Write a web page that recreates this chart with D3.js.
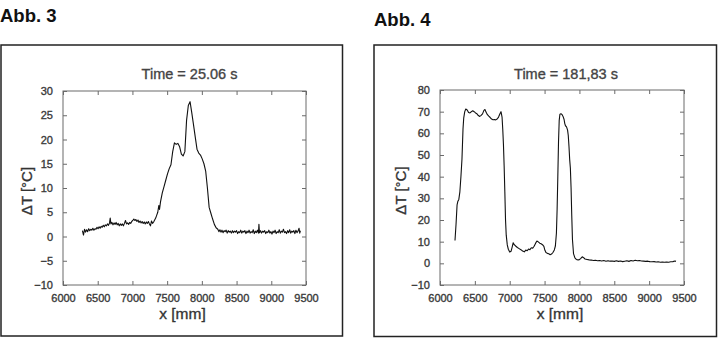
<!DOCTYPE html>
<html>
<head>
<meta charset="utf-8">
<script src="https://cdn.jsdelivr.net/npm/d3@7/dist/d3.min.js"></script>
<style>
  html, body { margin: 0; padding: 0; background: #fff; }
  svg { display: block; }
  text { font-family: "Liberation Sans", Arial, sans-serif; }
  .chart-text { stroke-width: 0.35px; }
</style>
</head>
<body>
<svg id="fig" width="718" height="338"></svg>
<script>
// Abb. 3 — temperature rise along the specimen at t = 25.06 s
const xAbb3 = [
  6280,6295,6310,6325,6340,6355,6370,6385,6400,6415,
  6430,6445,6460,6475,6490,6505,6520,6535,6550,6565,
  6580,6595,6610,6625,6640,6655,6670,6680,6690,6705,
  6720,6735,6750,6765,6780,6795,6810,6825,6840,6855,
  6870,6885,6900,6915,6930,6945,6960,6975,6990,7005,
  7020,7035,7050,7065,7080,7095,7110,7125,7140,7155,
  7170,7185,7200,7215,7230,7245,7260,7275,7290,7305,
  7320,7335,7350,7365,7380,7390,7405,7430,7455,7480,
  7505,7530,7555,7580,7605,7630,7655,7680,7705,7730,
  7755,7780,7805,7830,7855,7880,7905,7930,7955,7980,
  8005,8030,8055,8080,8105,8130,8155,8180,8205,8230,
  8245,8260,8275,8290,8305,8320,8335,8350,8365,8380,
  8395,8410,8425,8440,8455,8470,8485,8500,8515,8530,
  8545,8560,8575,8590,8605,8620,8635,8650,8665,8680,
  8695,8710,8725,8740,8755,8770,8785,8800,8815,8822,
  8830,8845,8860,8875,8890,8905,8920,8935,8950,8965,
  8980,8995,9010,9025,9040,9055,9070,9085,9100,9115,
  9130,9145,9160,9175,9190,9205,9220,9235,9250,9265,
  9280,9295,9310,9325,9340,9355,9370,9385,9400,9410,
  9420
];
const dTAbb3 = [
  1.2,0.3,1.5,0.9,1.4,1.0,1.6,1.2,1.5,1.3,
  1.7,1.3,1.6,1.5,1.9,1.6,2.0,1.7,2.1,1.9,
  2.3,2.0,2.4,2.2,2.6,2.3,2.8,3.8,2.6,2.9,
  2.4,2.8,2.5,2.9,2.4,2.7,2.2,2.6,2.3,2.6,
  2.2,2.7,3.3,2.6,2.8,2.5,2.9,2.7,3.1,3.3,
  3.6,3.3,3.5,3.1,3.4,2.9,3.2,2.8,3.1,2.7,
  3.0,2.6,3.0,2.7,3.1,2.6,2.2,3.2,2.7,3.0,
  3.4,3.8,4.4,5.0,6.4,5.6,7.2,9.0,10.3,11.6,
  12.9,14.0,14.8,17.5,19.3,19.0,19.2,18.5,17.0,16.6,
  17.5,24.0,27.0,27.8,25.5,23.0,20.5,18.0,17.2,16.8,
  16.0,15.0,13.5,10.0,6.0,4.8,3.6,2.5,1.8,1.5,
  1.0,1.4,0.9,1.3,0.8,1.2,1.0,1.3,0.7,1.2,
  0.9,1.1,0.7,1.2,0.8,1.1,0.9,1.2,0.6,1.0,
  0.8,1.3,0.7,1.1,0.9,1.2,0.6,1.1,0.8,1.3,
  0.7,1.0,0.8,1.4,0.6,1.1,0.8,1.3,0.7,2.5,
  0.8,1.2,0.7,1.1,0.9,1.2,0.6,1.0,0.8,1.3,
  0.7,1.0,0.5,1.1,0.8,1.3,0.6,1.0,0.8,1.4,
  0.7,1.1,0.9,1.5,0.8,1.0,0.6,1.2,0.8,1.4,
  0.7,1.1,0.9,1.2,0.6,1.3,0.8,1.1,1.7,0.7,
  1.2
];

// Abb. 4 — temperature rise along the specimen at t = 181,83 s
const xAbb4 = [
  6215,6230,6245,6255,6270,6285,6300,6315,6330,6340,
  6355,6370,6390,6410,6430,6450,6470,6490,6510,6530,
  6550,6570,6590,6610,6630,6645,6660,6680,6700,6720,
  6740,6760,6780,6800,6820,6840,6860,6875,6890,6900,
  6910,6920,6930,6940,6950,6965,6980,7000,7020,7035,
  7050,7065,7085,7110,7135,7160,7185,7210,7230,7250,
  7270,7290,7310,7330,7350,7370,7390,7410,7430,7450,
  7470,7490,7505,7520,7540,7560,7580,7600,7620,7640,
  7655,7670,7680,7690,7700,7710,7720,7735,7750,7765,
  7780,7790,7800,7815,7830,7840,7850,7860,7870,7880,
  7890,7900,7915,7935,7955,7980,8000,8020,8040,8060,
  8080,8110,8140,8170,8200,8230,8260,8290,8320,8350,
  8380,8410,8440,8470,8500,8530,8560,8590,8620,8650,
  8680,8710,8740,8770,8800,8830,8860,8890,8920,8950,
  8980,9010,9040,9070,9100,9130,9160,9190,9220,9250,
  9280,9310,9340,9370,9385
];
const dTAbb4 = [
  10.5,18.0,27.0,28.5,29.5,33.0,40.0,48.0,62.0,67.0,
  70.0,71.2,70.8,69.6,69.4,70.0,70.4,70.0,69.4,69.0,
  68.2,67.8,68.3,69.0,70.6,71.0,69.8,68.6,67.9,67.3,
  66.6,66.3,66.4,66.2,66.6,67.5,69.0,70.0,67.5,62.0,
  55.0,45.0,33.0,20.0,13.0,8.5,6.5,5.2,5.6,7.5,
  9.5,8.6,8.0,7.3,6.8,6.3,5.7,5.3,6.1,5.8,
  6.6,6.3,7.2,7.0,7.9,9.2,10.3,9.9,9.3,9.0,
  8.6,7.8,6.0,5.0,4.6,4.4,4.0,4.3,5.0,6.2,
  8.0,14.0,25.0,40.0,56.0,66.0,68.8,69.0,68.7,67.8,
  66.4,64.5,63.5,63.0,61.5,59.0,54.0,48.0,44.0,35.0,
  22.0,11.0,4.5,2.5,1.8,1.6,1.7,2.3,3.0,2.6,
  2.0,1.8,1.6,1.5,1.3,1.4,1.2,1.3,1.1,1.3,
  1.0,1.2,1.0,1.1,0.9,1.2,0.9,1.1,0.8,1.0,
  1.2,0.9,1.3,1.1,1.4,1.2,1.3,1.1,1.0,0.9,
  1.0,0.8,0.7,0.8,0.6,0.7,0.5,0.6,0.5,0.6,
  0.5,0.7,0.8,1.1,0.9
];

// Axis ticks
const xTicks = [6000, 6500, 7000, 7500, 8000, 8500, 9000, 9500];
const yTicksAbb3 = [-10, -5, 0, 5, 10, 15, 20, 25, 30];
const yTicksAbb4 = [-10, 0, 10, 20, 30, 40, 50, 60, 70, 80];

const svg = d3.select("#fig");

function panel(cfg) {
  const g = svg.append("g");

  // figure caption
  g.append("text")
    .attr("x", cfg.capX).attr("y", cfg.capY)
    .attr("font-family", "Lato, 'Open Sans', sans-serif")
    .attr("font-weight", 700).attr("font-size", 18.5)
    .attr("fill", "#111")
    .text(cfg.caption);

  // outer box
  g.append("rect")
    .attr("x", cfg.box[0]).attr("y", cfg.box[1])
    .attr("width", cfg.box[2]).attr("height", cfg.box[3])
    .attr("fill", "none").attr("stroke", "#222").attr("stroke-width", 1.5);

  const x = d3.scaleLinear().domain([6000, 9500]).range([cfg.left, cfg.right]);
  const y = d3.scaleLinear().domain(cfg.yDomain).range([cfg.bottom, cfg.top]);

  const tickCol = "#6a6a6a";
  const styleAxis = sel => {
    sel.select(".domain").remove();
    sel.selectAll(".tick line").attr("stroke", tickCol);
    sel.selectAll(".tick text")
      .attr("class", "chart-text")
      .attr("fill", "#3a3a3a").attr("stroke", "#3a3a3a")
      .attr("font-family", "'Liberation Sans', Arial, sans-serif")
      .attr("font-size", 11);
  };

  g.append("g").attr("transform", `translate(0,${cfg.bottom})`)
    .call(d3.axisBottom(x).tickValues(xTicks).tickSize(-4).tickPadding(9).tickFormat(d3.format("d")))
    .call(styleAxis);
  g.append("g").attr("transform", `translate(0,${cfg.top})`)
    .call(d3.axisTop(x).tickValues(xTicks).tickSize(-4).tickFormat(""))
    .call(styleAxis);
  g.append("g").attr("transform", `translate(${cfg.left},0)`)
    .call(d3.axisLeft(y).tickValues(cfg.yTicks).tickSize(-4).tickPadding(10).tickFormat(d3.format("d")))
    .call(styleAxis);
  g.append("g").attr("transform", `translate(${cfg.right},0)`)
    .call(d3.axisRight(y).tickValues(cfg.yTicks).tickSize(-4).tickFormat(""))
    .call(styleAxis);

  // plot frame
  g.append("rect")
    .attr("x", cfg.left).attr("y", cfg.top)
    .attr("width", cfg.right - cfg.left).attr("height", cfg.bottom - cfg.top)
    .attr("fill", "none").attr("stroke", tickCol).attr("stroke-width", 1);

  // measured curve
  const pts = cfg.xs.map((v, i) => [v, cfg.ys[i]]);
  g.append("path")
    .datum(pts)
    .attr("fill", "none").attr("stroke", "#111").attr("stroke-width", 1.1)
    .attr("stroke-linejoin", "round")
    .attr("d", d3.line().x(d => x(d[0])).y(d => y(d[1])));

  // title and axis labels
  g.append("text")
    .attr("class", "chart-text")
    .attr("x", (cfg.left + cfg.right) / 2 + cfg.titleShift).attr("y", 79)
    .attr("text-anchor", "middle").attr("font-size", 14.5)
    .attr("fill", "#444").attr("stroke", "#444")
    .text(cfg.title);
  g.append("text")
    .attr("class", "chart-text")
    .attr("x", (cfg.left + cfg.right) / 2 - 2).attr("y", 319)
    .attr("text-anchor", "middle").attr("font-size", 15.5)
    .attr("fill", "#333").attr("stroke", "#333")
    .text("x [mm]");
  g.append("text")
    .attr("class", "chart-text")
    .attr("transform", `translate(${cfg.yLabelX},${(cfg.top + cfg.bottom) / 2 + 3}) rotate(-90)`)
    .attr("text-anchor", "middle").attr("font-size", 15)
    .attr("fill", "#333").attr("stroke", "#333")
    .text("ΔT [°C]");
}

panel({
  caption: "Abb. 3", capX: 0, capY: 22,
  box: [1, 45, 341.5, 291],
  left: 63, right: 306, top: 91, bottom: 285,
  yDomain: [-10, 30], yTicks: yTicksAbb3,
  xs: xAbb3, ys: dTAbb3,
  title: "Time = 25.06 s", titleShift: 5, yLabelX: 32
});

panel({
  caption: "Abb. 4", capX: 374, capY: 26,
  box: [374, 45, 342.5, 291.5],
  left: 440, right: 684, top: 90, bottom: 285,
  yDomain: [-10, 80], yTicks: yTicksAbb4,
  xs: xAbb4, ys: dTAbb4,
  title: "Time = 181,83 s", titleShift: 4, yLabelX: 406
});
</script>
</body>
</html>
